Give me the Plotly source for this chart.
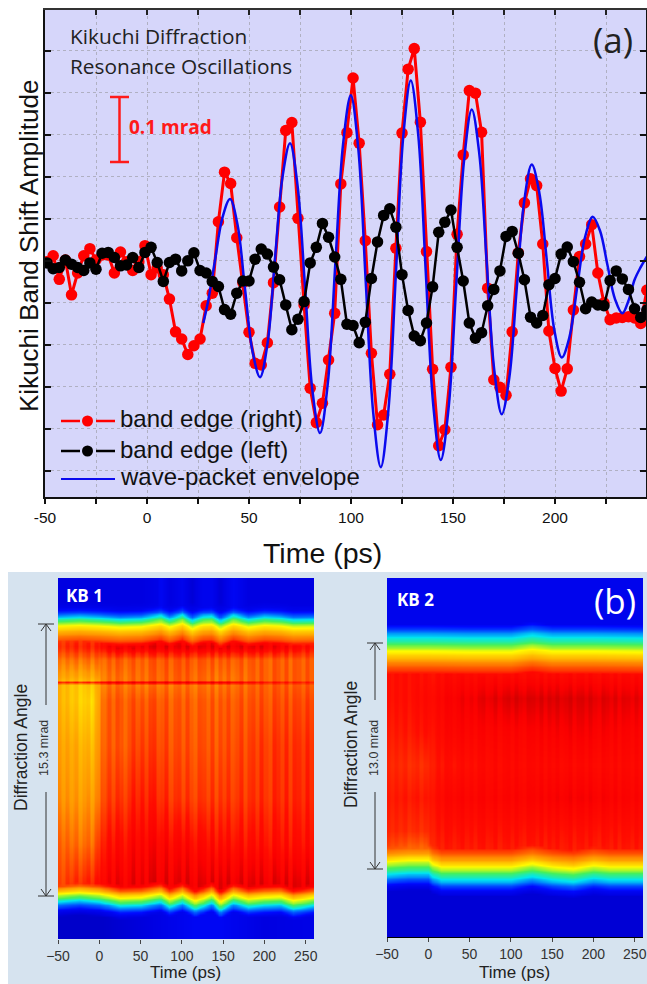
import numpy as np
import plotly.graph_objects as go

W, H = 647, 984

# ---------- panel (a) data (amplitude in tick-interval units) ----------
time_sampled = [-49,-46,-43,-40,-37,-34,-31,-28,-25,-22,-19,-16,-13,-10,-7,-4,-1,2,5,8,11,14,17,20,23,26,29,32,35,38,41,44,47,50,
                53,56,59,62,65,68,71,74,77,80,83,86,89,92,95,98,101,104,107,110,113,116,119,122,125,128,131,134,137,140,143,146,
                149,152,155,158,161,164,167,170,173,176,179,182,185,188,191,194,197,200,203,206,209,212,215,218,221,224,227,230,
                233,236,239,242,245]
edge_right = [-0.02,0.12,-0.44,0.02,-0.81,-0.29,0.12,0.29,0.02,0.14,0.14,-0.29,0.21,-0.02,-0.23,-0.02,0.36,-0.33,-0.17,-0.33,-0.91,-1.69,-1.86,-2.23,-2.02,-1.86,-1.07,-0.77,0.93,2.11,1.84,0.55,-0.52,-1.70,
              -2.44,-2.48,-1.95,-0.52,1.28,3.10,3.29,1.01,-1.05,-3.03,-3.85,-3.39,-2.36,-1.25,1.83,3.05,4.35,2.80,0.48,-2.20,-3.90,-3.67,-2.70,0.30,3.04,4.56,5.05,3.30,0.22,-2.58,-4.40,-4.02,
              -2.53,0.63,2.52,4.05,3.99,3.06,-0.65,-2.83,-3.01,-3.20,-1.69,0.19,1.38,1.95,1.79,0.40,-1.67,-2.56,-3.10,-2.57,-1.17,0.10,0.40,0.86,-0.29,-1.00,-1.40,-1.36,
              -1.35,-1.33,-1.36,-1.49,-0.70]
edge_left = [-0.05,-0.19,-0.16,0.02,-0.08,-0.16,-0.23,-0.05,-0.20,0.18,0.20,0.08,-0.12,-0.10,0.08,-0.16,0.20,0.32,-0.04,-0.49,-0.04,0.04,-0.24,0.00,0.19,-0.23,-0.29,-0.49,-0.61,-1.16,-1.27,-0.77,-0.48,-0.48,
             0.04,0.28,0.16,-0.15,-0.45,-1.05,-1.64,-1.39,-0.97,-0.05,0.32,0.89,0.56,0.09,-0.44,-1.51,-1.54,-1.95,-1.46,-0.42,0.45,1.08,1.24,0.80,-0.33,-1.18,-1.79,-1.90,-1.48,-0.62,0.68,0.92,
             1.21,0.32,-0.48,-1.48,-1.84,-1.71,-1.07,-0.68,-0.24,0.58,0.70,0.18,-0.45,-1.34,-1.48,-1.30,-0.57,-0.42,0.16,0.33,-0.02,-0.51,-1.14,-0.98,-1.05,-1.07,-0.47,-0.24,
             -0.43,-0.68,-1.14,-1.35,-1.17]
envelope_t = [27.6,30,33.3,37,40.7,44.4,48,51.7,55.4,59.1,62.7,66.4,70.1,73.8,77.5,81.1,84.8,88.6,92.3,96.1,99.9,103.6,107.2,110.9,114.6,118.3,122,125.6,129.3,133,136.6,140.3,144,147.8,151.6,155.4,159.2,162.9,166.5,170.2,173.9,177.6,181.2,184.9,188.6,192.3,196,199.6,203.3,207.1,210.9,214.7,218.5,222.1,225.7,229.4,233,236,239,242,245]
envelope_a = [-1.48,-0.95,0,1.03,1.47,0.85,-0.65,-2.15,-2.77,-1.96,0.02,1.99,2.80,1.79,-0.65,-3.09,-4.10,-2.93,-0.08,2.77,3.94,2.65,-0.48,-3.62,-4.91,-3.57,-0.31,2.95,4.29,2.97,-0.22,-3.42,-4.74,-3.52,-0.57,2.38,3.60,2.54,-0.02,-2.59,-3.65,-2.78,-0.68,1.42,2.29,1.62,0,-1.63,-2.30,-1.81,-0.62,0.56,1.05,0.71,-0.10,-0.91,-1.25,-0.95,-0.45,-0.15,0.10]
x_ticks_a = [-50,-25,0,25,50,75,100,125,150,175,200,225]
x_labels_a = ['-50','','0','','50','','100','','150','','200','']
y_ticks_a = [-5,-4,-3,-2,-1,0,1,2,3,4,5]
legend_labels = ['band edge (right)', 'band edge (left)', 'wave-packet envelope']

# ---------- panel (b) data: (y in mrad, z on colour scale 0..1) ----------
kb1_top_t = [-50,-25,0,25,50,70,74,85,100,112,125,136,146,162,180,200,219,235,260]
kb1_top_y = [15.47,15.52,15.47,15.39,15.43,15.58,15.62,15.42,15.65,15.33,15.55,15.58,15.30,15.62,15.40,15.52,15.47,15.37,15.39]
kb1_bot_t = [-50,-25,0,25,50,74,85,100,116,136,146,162,180,200,219,235,260]
kb1_bot_y = [-0.13,-0.04,-0.13,-0.36,-0.32,-0.13,-0.41,-0.17,-0.54,-0.17,-0.60,-0.19,-0.41,-0.32,-0.28,-0.51,-0.32]
kb1_prof_top_d = [-1.2,-0.7,-0.4,-0.15,0,0.32,0.7,1.1,1.6]
kb1_prof_top_z = [0.09,0.12,0.22,0.38,0.50,0.63,0.74,0.82,1.0]
kb1_prof_bot_d = [-1.0,-0.66,-0.28,0,0.28,0.56,0.85,1.3]
kb1_prof_bot_z = [0.08,0.13,0.30,0.50,0.63,0.76,0.88,1.0]
kb1_bg_top = [0.10,0.10,0.10,0.10,0.10,0.11,0.13,0.10,0.12,0.09,0.12,0.12,0.09,0.13,0.10,0.10,0.10,0.10,0.10]
kb1_bg_bot_t = [-50,-25,-2,4,60,116,146,200,260]
kb1_bg_bot = [0.06,0.03,0.04,0.08,0.10,0.13,0.13,0.10,0.11]
kb1_in_t = [-50,-30,-10,-1,3,25,50,100,150,200,260]
kb1_in_y = [-0.5,0.7,3.0,5.5,8.5,11.0,11.9,12.05,12.12,12.3,13.3,14.0,15.5]
kb1_in_z = [
    [0.83,0.84,0.85,0.87,0.90,0.90,0.90,0.90,0.90,0.90,0.90],
    [0.82,0.84,0.85,0.87,0.90,0.90,0.91,0.91,0.91,0.91,0.91],
    [0.80,0.78,0.78,0.82,0.87,0.87,0.89,0.88,0.87,0.87,0.87],
    [0.76,0.74,0.74,0.76,0.83,0.83,0.86,0.83,0.83,0.84,0.85],
    [0.74,0.72,0.70,0.74,0.81,0.80,0.83,0.81,0.81,0.83,0.84],
    [0.72,0.68,0.66,0.72,0.80,0.80,0.81,0.80,0.80,0.81,0.82],
    [0.72,0.68,0.68,0.72,0.78,0.78,0.78,0.78,0.78,0.80,0.80],
    [0.88,0.88,0.88,0.88,0.92,0.92,0.92,0.92,0.92,0.88,0.86],
    [0.72,0.70,0.70,0.72,0.78,0.78,0.79,0.80,0.78,0.80,0.80],
    [0.74,0.72,0.72,0.74,0.78,0.78,0.79,0.80,0.78,0.80,0.80],
    [0.78,0.78,0.78,0.79,0.80,0.80,0.80,0.81,0.80,0.80,0.80],
    [0.84,0.85,0.85,0.86,0.89,0.91,0.91,0.91,0.91,0.91,0.87],
    [0.80,0.80,0.80,0.80,0.82,0.82,0.82,0.82,0.82,0.82,0.80],
]
# vertical streaks (per 5 ps column), estimated from the map's texture
map_streak = [.01,-.02,.02,-.01,.03,-.02,.01,.03,-.02,.02,-.01,-.03,.02,-.02,.03,.01,-.03,.00,.03,-.02,.01,-.03,.02,.03,-.02,-.01,.03,-.03,.01,.02,
              -.02,.03,-.01,-.03,.02,.01,-.02,.03,-.03,.02,-.01,.03,-.02,.00,.03,-.03,.01,.02,-.02,.03,-.01,-.03,.03,.01,-.02,.03,-.03,.02,.01,-.02,.03,-.01,.00]
kb2_top_t = [-50,0,50,100,125,150,200,260]
kb2_top_y = [12.94,12.94,12.91,12.91,13.06,12.94,12.94,12.91]
kb2_bot_t = [-50,-25,0,5,15,50,100,125,150,175,200,220,260]
kb2_bot_y = [0.06,0.15,0.15,-0.04,-0.23,-0.23,-0.23,-0.04,-0.23,-0.33,-0.14,-0.23,-0.23]
kb2_prof_top_d = [-1.15,-0.48,0,0.38,0.96,1.63,2.1]
kb2_prof_top_z = [0.12,0.35,0.50,0.62,0.75,0.86,1.0]
kb2_prof_bot_d = [-1.3,-0.96,-0.38,0,0.38,0.77,1.34,1.9]
kb2_prof_bot_z = [0.09,0.14,0.36,0.50,0.62,0.74,0.84,1.0]
kb2_bg_top = [0.08,0.08,0.08,0.08,0.09,0.08,0.08,0.08]
kb2_bg_bot_t = [-50,-25,-2,4,60,260]
kb2_bg_bot = [0.06,0.03,0.04,0.08,0.09,0.09]
kb2_in_t = [-50,-20,-2,3,30,100,180,260]
kb2_in_y = [0.8,1.2,2.19,4.1,6.01,7.93,9.85,11.19,13.0]
kb2_in_z = [
    [0.80,0.78,0.78,0.84,0.84,0.84,0.84,0.84],
    [0.82,0.79,0.79,0.85,0.86,0.86,0.86,0.86],
    [0.85,0.84,0.84,0.86,0.87,0.87,0.87,0.87],
    [0.86,0.86,0.86,0.87,0.89,0.89,0.90,0.89],
    [0.85,0.84,0.84,0.86,0.87,0.88,0.88,0.88],
    [0.86,0.86,0.87,0.87,0.89,0.89,0.90,0.89],
    [0.87,0.87,0.88,0.88,0.90,0.92,0.92,0.91],
    [0.87,0.87,0.87,0.87,0.88,0.88,0.88,0.88],
    [0.87,0.87,0.87,0.87,0.88,0.88,0.88,0.88],
]
x_ticks_b = [-50,0,50,100,150,200,250]
jet_like = [[0,'rgb(0,0,110)'],[0.1,'rgb(0,0,225)'],[0.15,'rgb(0,10,255)'],[0.25,'rgb(0,100,255)'],
            [0.37,'rgb(0,230,240)'],[0.5,'rgb(70,240,90)'],[0.62,'rgb(255,250,0)'],[0.75,'rgb(255,150,0)'],
            [0.87,'rgb(255,12,0)'],[0.9,'rgb(250,0,0)'],[1,'rgb(110,0,0)']]


def build_map(top_t, top_y, bot_t, bot_y, ptd, ptz, pbd, pbz, bgt, bgbt, bgb, in_t, in_y, in_z, y_lo, y_hi, texture):
    t = np.arange(-50, 261, 2.5)
    y = np.linspace(y_lo, y_hi, 150)
    zi = np.array(in_z)
    by_col = np.array([np.interp(t, in_t, row) for row in zi])
    interior = np.array([np.interp(y, in_y, by_col[:, j]) for j in range(len(t))]).T
    cols = np.array(map_streak)[np.minimum(((t + 50) / 5).astype(int), len(map_streak) - 1)]
    interior = interior + texture * cols[None, :]
    T, Y = np.meshgrid(t, y)
    top = np.interp(T, top_t, top_y)
    bot = np.interp(T, bot_t, bot_y)
    z_top = np.maximum(np.interp(top - Y, ptd, ptz), np.interp(T, top_t, bgt))
    z_bot = np.maximum(np.interp(Y - bot, pbd, pbz), np.interp(T, bgbt, bgb))
    return t, y, np.minimum(np.minimum(z_top, z_bot), interior)


def px(x):
    return x / W


def py(y):
    return 1 - y / H


fig = go.Figure()

# red first, then blue, then black on top
fig.add_trace(go.Scatter(x=time_sampled, y=edge_right, mode='lines+markers', name=legend_labels[0], showlegend=False,
                         line=dict(color='#ff0000', width=3), marker=dict(color='#ff0000', size=11.5), xaxis='x', yaxis='y'))
fig.add_trace(go.Scatter(x=envelope_t, y=envelope_a, mode='lines', name=legend_labels[2], showlegend=False,
                         line=dict(color='#0a0aee', width=2.5, shape='spline', smoothing=1.0), xaxis='x', yaxis='y'))
fig.add_trace(go.Scatter(x=time_sampled, y=edge_left, mode='lines+markers', name=legend_labels[1], showlegend=False,
                         line=dict(color='#000000', width=2.5), marker=dict(color='#000000', size=11.5), xaxis='x', yaxis='y'))
fig.add_trace(go.Scatter(x=[None], y=[None], xaxis='x4', yaxis='y', showlegend=False, hoverinfo='skip'))

t1, y1, z1 = build_map(kb1_top_t, kb1_top_y, kb1_bot_t, kb1_bot_y, kb1_prof_top_d, kb1_prof_top_z, kb1_prof_bot_d, kb1_prof_bot_z,
                       kb1_bg_top, kb1_bg_bot_t, kb1_bg_bot, kb1_in_t, kb1_in_y, kb1_in_z, -2.42, 17.88, 0.6)
t2, y2, z2 = build_map(kb2_top_t, kb2_top_y, kb2_bot_t, kb2_bot_y, kb2_prof_top_d, kb2_prof_top_z, kb2_prof_bot_d, kb2_prof_bot_z,
                       kb2_bg_top, kb2_bg_bot_t, kb2_bg_bot, kb2_in_t, kb2_in_y, kb2_in_z, -3.9, 16.76, 0.25)
fig.add_trace(go.Heatmap(x=t1, y=y1, z=z1, zmin=0, zmax=1, colorscale=jet_like, showscale=False, zsmooth='best', xaxis='x2', yaxis='y2'))
fig.add_trace(go.Heatmap(x=t2, y=y2, z=z2, zmin=0, zmax=1, colorscale=jet_like, showscale=False, zsmooth='best', xaxis='x3', yaxis='y3'))

ARIAL = 'Liberation Sans, Arial, sans-serif'
OPEN = 'Open Sans, sans-serif'
shapes = [dict(type='rect', xref='paper', yref='paper', x0=px(8), x1=1, y0=py(572), y1=0,
               fillcolor='#d6e3ef', line_width=0, layer='below')]


def seg(x0, y0, x1, y1, color, w):
    shapes.append(dict(type='line', xref='paper', yref='paper', x0=px(x0), x1=px(x1), y0=py(y0), y1=py(y1),
                       line=dict(color=color, width=w)))


def dot(xc, yc, r, color):
    shapes.append(dict(type='circle', xref='paper', yref='paper', x0=px(xc - r), x1=px(xc + r), y0=py(yc + r), y1=py(yc - r),
                       fillcolor=color, line_width=0))


# 0.1 mrad scale bar
seg(119.5, 97, 119.5, 162, '#ff1a1a', 2.5)
seg(110, 97, 129, 97, '#ff1a1a', 2.5)
seg(110, 162, 129, 162, '#ff1a1a', 2.5)
# legend keys
seg(61, 421, 80, 421, '#ff0000', 2.5)
seg(96, 421, 115, 421, '#ff0000', 2.5)
dot(87.5, 421, 5.5, '#ff0000')
seg(61, 451, 80, 451, '#000000', 2.5)
seg(96, 451, 115, 451, '#000000', 2.5)
dot(87.5, 451, 5.5, '#000000')
seg(61, 479, 115, 479, '#0a0aee', 2)
# width brackets of the maps
for xc, ytop, ybot, g0, g1 in [(46, 624, 896, 705, 792), (375, 643, 869, 700, 792)]:
    seg(xc - 8, ytop, xc + 8, ytop, '#333333', 1)
    seg(xc - 8, ybot, xc + 8, ybot, '#333333', 1)
    seg(xc, ytop, xc, g0, '#333333', 1)
    seg(xc, g1, xc, ybot, '#333333', 1)
    seg(xc - 5, ytop + 7, xc, ytop, '#333333', 1)
    seg(xc + 5, ytop + 7, xc, ytop, '#333333', 1)
    seg(xc - 5, ybot - 7, xc, ybot, '#333333', 1)
    seg(xc + 5, ybot - 7, xc, ybot, '#333333', 1)


def note(text, x, y, size, color='#000', family=ARIAL, angle=0, bold=False, anchor='center'):
    return dict(text=f'<b>{text}</b>' if bold else text, xref='paper', yref='paper', x=px(x), y=py(y), showarrow=False,
                xanchor=anchor, yanchor='middle', textangle=angle, font=dict(size=size, color=color, family=family), borderpad=0)


notes = [
    note('Kikuchi Diffraction', 69, 36, 20.8, '#222', OPEN, anchor='left'),
    note('Resonance Oscillations', 69, 66, 20.8, '#222', OPEN, anchor='left'),
    note('0.1 mrad', 128, 127, 19, '#ff1a1a', OPEN, bold=True, anchor='left'),
    note('(a)', 613, 39, 35, '#222', OPEN),
    note('(b)', 615, 600, 35, '#ffffff', OPEN),
    note('KB 1', 84.5, 595, 17, '#ffffff', OPEN, bold=True),
    note('KB 2', 415, 599, 17, '#ffffff', OPEN, bold=True),
    note('Kikuchi Band Shift Amplitude', 29, 246, 26, '#111', ARIAL, angle=-90),
    note('Time (ps)', 322, 553, 28.5, '#111', ARIAL),
    note(legend_labels[0], 119, 418, 24, '#111', ARIAL, anchor='left'),
    note(legend_labels[1], 119, 450, 24, '#111', ARIAL, anchor='left'),
    note(legend_labels[2], 119, 476, 24, '#111', ARIAL, anchor='left'),
    note('Diffraction Angle', 21, 748, 17.5, '#222', ARIAL, angle=-90),
    note('15.3 mrad', 44, 748, 12.5, '#333', ARIAL, angle=-90),
    note('Diffraction Angle', 351, 745, 17.5, '#222', ARIAL, angle=-90),
    note('13.0 mrad', 374, 748, 12.5, '#333', ARIAL, angle=-90),
    note('Time (ps)', 185, 972, 17, '#222', ARIAL),
    note('Time (ps)', 514, 972, 17, '#222', ARIAL),
]

fig.update_layout(
    width=W, height=H, margin=dict(l=0, r=0, t=0, b=0, pad=0, autoexpand=False), autosize=False, showlegend=False,
    paper_bgcolor='#ffffff', plot_bgcolor='#d6d6fa', shapes=shapes, annotations=notes, hovermode=False,
    font=dict(family=ARIAL),
    xaxis=dict(domain=[px(45), px(646)], range=[-50, 244.6], anchor='y', tickmode='array', tickvals=x_ticks_a, ticktext=x_labels_a,
               ticks='outside', ticklen=5, tickwidth=1.5, tickcolor='#111', showline=True, linecolor='#111', linewidth=2,
               showgrid=True, griddash='dot', gridcolor='#b0b0c2', gridwidth=1, zeroline=False,
               tickfont=dict(size=15.5, color='#111', family=ARIAL)),
    xaxis4=dict(domain=[px(45), px(646)], range=[-50, 244.6], anchor='y', overlaying='x', side='top', tickmode='array', tickvals=x_ticks_a,
                showticklabels=False, ticks='inside', ticklen=5, tickwidth=1.5, tickcolor='#222', showline=True, linecolor='#333', linewidth=2,
                showgrid=False, zeroline=False),
    yaxis=dict(domain=[py(497), py(9.5)], range=[-5.62, 5.98], anchor='x', tickmode='array', tickvals=y_ticks_a, showticklabels=False,
               ticks='inside', ticklen=6, tickwidth=1.5, tickcolor='#111', showline=True, linecolor='#111', linewidth=2, mirror='ticks',
               showgrid=True, griddash='dot', gridcolor='#b0b0c2', gridwidth=1, zeroline=False),
    xaxis2=dict(domain=[px(58), px(314)], range=[-50, 260], anchor='y2', tickmode='array', tickvals=x_ticks_b, ticks='outside', ticklen=4,
                tickcolor='#444', tickfont=dict(size=14, color='#333'), showgrid=False, zeroline=False, showline=False),
    yaxis2=dict(domain=[py(939), py(578)], range=[-2.42, 17.88], anchor='x2', showticklabels=False, ticks='', showgrid=False, zeroline=False),
    xaxis3=dict(domain=[px(387), px(643)], range=[-50, 260], anchor='y3', tickmode='array', tickvals=x_ticks_b, ticks='outside', ticklen=4,
                tickcolor='#444', tickfont=dict(size=14, color='#333'), showgrid=False, zeroline=False, showline=True, linecolor='#000', linewidth=1),
    yaxis3=dict(domain=[py(937), py(578)], range=[-3.9, 16.76], anchor='x3', showticklabels=False, ticks='', showgrid=False, zeroline=False),
)

fig.write_html('out.html', config={'displayModeBar': False}, post_script="document.body.style.margin='0';")
